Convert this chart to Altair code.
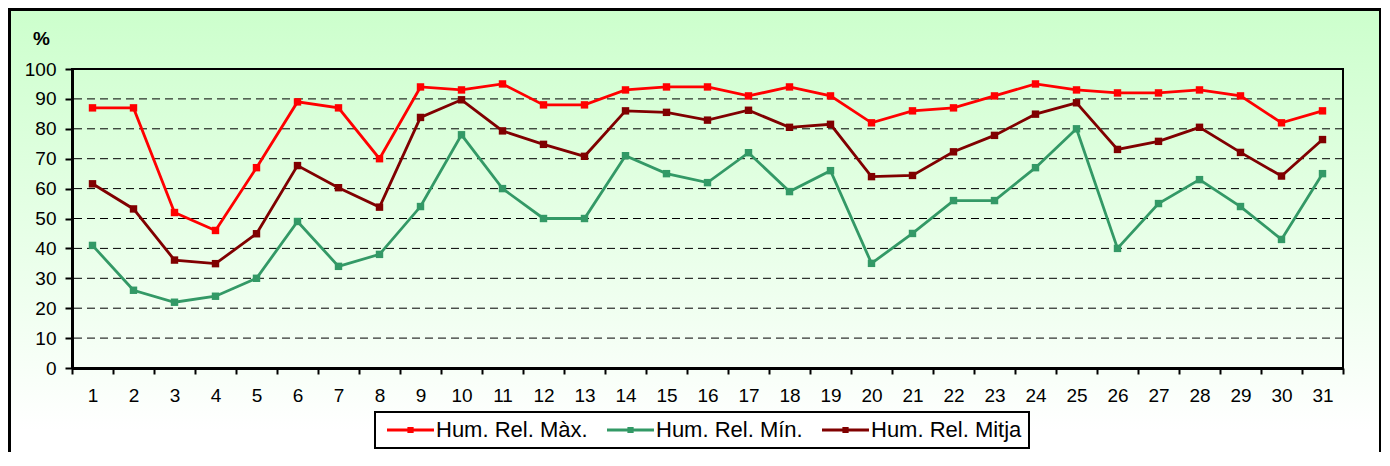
import altair as alt
import pandas as pd

# ---- data ----
days = [1, 2, 3, 4, 5, 6, 7, 8, 9, 10, 11, 12, 13, 14, 15, 16,
        17, 18, 19, 20, 21, 22, 23, 24, 25, 26, 27, 28, 29, 30, 31]
hr_max = [87, 87, 52, 46, 67, 89, 87, 70, 94, 93, 95, 88, 88, 93, 94, 94,
          91, 94, 91, 82, 86, 87, 91, 95, 93, 92, 92, 93, 91, 82, 86]
hr_min = [41, 26, 22, 24, 30, 49, 34, 38, 54, 78, 60, 50, 50, 71, 65, 62,
          72, 59, 66, 35, 45, 56, 56, 67, 80, 40, 55, 63, 54, 43, 65]
hr_mitja = [61.6, 53.2, 36.1, 34.9, 44.9, 67.7, 60.3, 53.8, 83.8, 89.7, 79.3,
            74.8, 70.8, 86.0, 85.5, 82.9, 86.2, 80.5, 81.5, 64.0, 64.4, 72.3,
            77.8, 84.9, 88.7, 73.1, 75.8, 80.5, 72.1, 64.2, 76.4]
series_names = ["Hum. Rel. Màx.", "Hum. Rel. Mín.", "Hum. Rel. Mitja"]
series_colors = ["#FF0000", "#339966", "#800000"]
y_ticks = [0, 10, 20, 30, 40, 50, 60, 70, 80, 90, 100]
grid_values = [10, 20, 30, 40, 50, 60, 70, 80, 90]

rows = []
for name, vals in zip(series_names, [hr_max, hr_min, hr_mitja]):
    for d, v in zip(days, vals):
        rows.append({"dia": d, "serie": name, "valor": v})
df = pd.DataFrame(rows)

W, H = 1271, 299
FONT = "Liberation Sans"

y_enc = alt.Y(
    "valor:Q",
    scale=alt.Scale(domain=[0, 100], nice=False),
    axis=alt.Axis(
        values=y_ticks, grid=False, domainColor="black", domainWidth=3,
        tickColor="black", tickWidth=2, tickSize=7,
        labelFont=FONT, labelFontSize=19, labelColor="black", labelPadding=9,
        title="%", titleAngle=0, titleX=-31, titleY=-31,
        titleAlign="center", titleBaseline="middle",
        titleFont=FONT, titleFontSize=19, titleFontWeight="bold",
        titleColor="black", zindex=1,
    ),
)

gradient = alt.LinearGradient(
    gradient="linear",
    stops=[alt.GradientStop(color="#CCFFCC", offset=0),
           alt.GradientStop(color="#FFFFFF", offset=1)],
    x1=0, x2=0, y1=0, y2=1,
)

one = pd.DataFrame({"k": [0]})

bg = alt.Chart(one).mark_rect(fill=gradient, strokeWidth=0).encode(
    x=alt.value(-64), x2=alt.value(1310), y=alt.value(-61), y2=alt.value(361)
)

frame = alt.Chart(one).mark_rect(filled=False, stroke="black", strokeWidth=3).encode(
    x=alt.value(-62.5), x2=alt.value(1308.5), y=alt.value(-59.5), y2=alt.value(420)
)

grid = alt.Chart(pd.DataFrame({"valor": grid_values})).mark_rule(
    color="black", strokeWidth=1, strokeDash=[8, 5]
).encode(y=y_enc)

border = alt.Chart(one).mark_rect(filled=False, stroke="black", strokeWidth=2).encode(
    x=alt.value(0), x2=alt.value(W), y=alt.value(0), y2=alt.value(H)
)

# legend symbol: line segment with a small square in its middle
sym_path = "M-1,0L6.83,0M2.65,-0.27L3.19,-0.27L3.19,0.27L2.65,0.27Z"

lines = alt.Chart(df).mark_line(
    strokeWidth=2.8,
    point=alt.OverlayMarkDef(shape="square", size=55, filled=True, opacity=1),
).encode(
    x=alt.X(
        "dia:O",
        scale=alt.Scale(type="band", paddingInner=0, paddingOuter=0),
        bandPosition=0.5,
        axis=alt.Axis(
            title=None, labelAngle=0, tickBand="extent",
            domainColor="black", domainWidth=3,
            tickColor="black", tickWidth=2, tickSize=6,
            labelFont=FONT, labelFontSize=19, labelColor="black",
            labelPadding=12, zindex=1,
        ),
    ),
    y=y_enc,
    color=alt.Color(
        "serie:N",
        sort=series_names,
        scale=alt.Scale(domain=series_names, range=series_colors),
        legend=alt.Legend(
            title=None, orient="none", legendX=303, legendY=343,
            direction="horizontal",
        ),
    ),
)

chart = alt.layer(bg, frame, grid, border, lines).properties(
    width=W, height=H,
    autosize=alt.AutoSizeParams(type="none"),
    padding={"left": 64, "top": 61, "right": 38, "bottom": 84},
).configure_view(strokeWidth=0).configure_legend(
    fillColor="white", strokeColor="black", strokeWidth=2, padding=7,
    symbolType=sym_path, symbolSize=144, symbolStrokeWidth=3,
    labelFont=FONT, labelFontSize=22, labelColor="black", labelOffset=32,
    columnPadding=13, symbolOpacity=1,
)

chart.save("out.html", embed_options={"renderer": "svg", "actions": False})
